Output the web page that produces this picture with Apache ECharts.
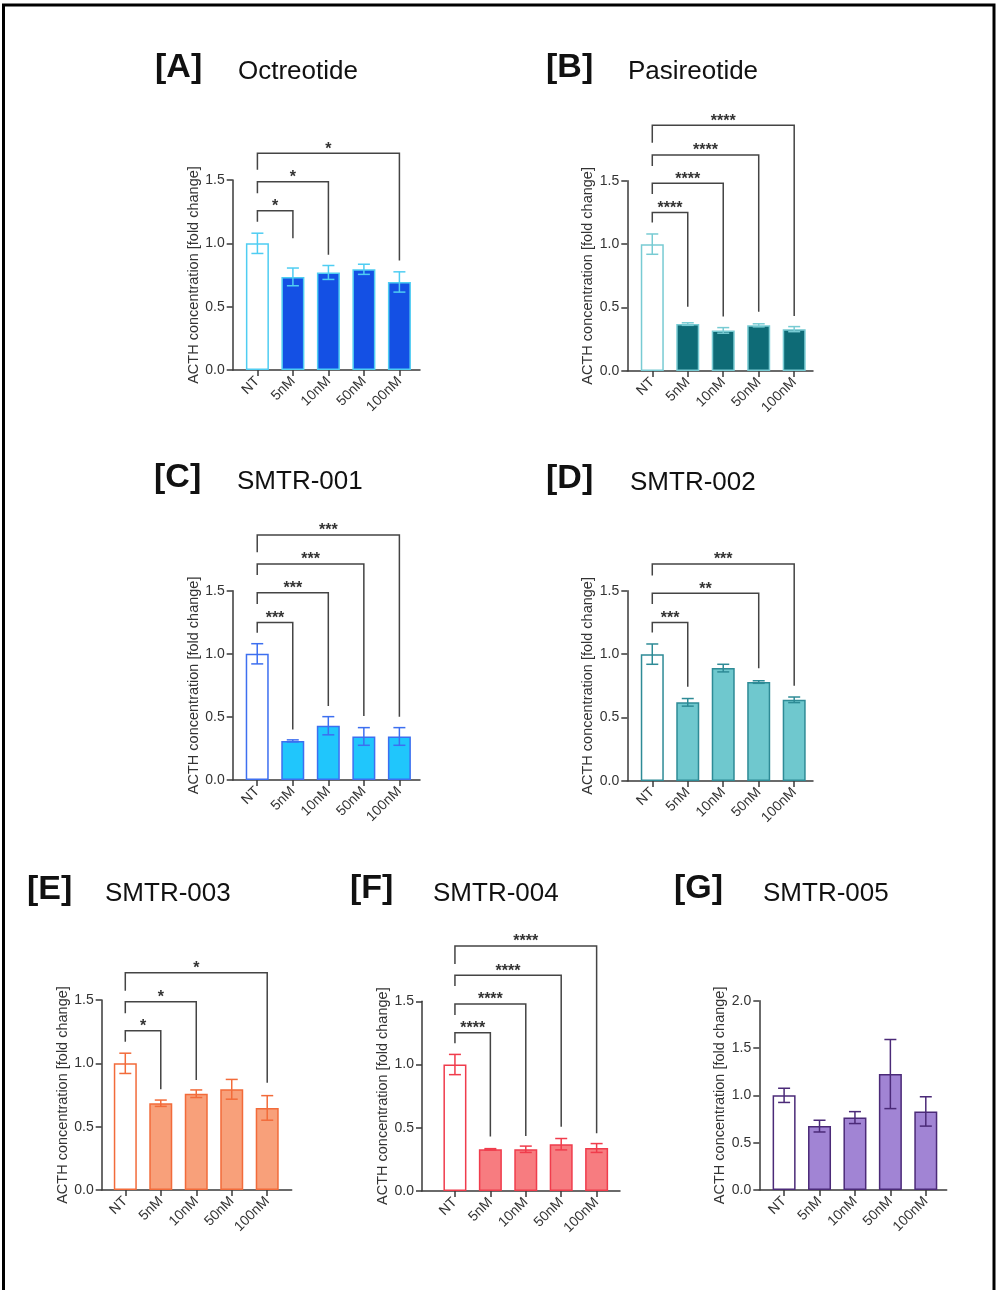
<!DOCTYPE html>
<html>
<head>
<meta charset="utf-8">
<script src="https://cdn.jsdelivr.net/npm/echarts@6/dist/echarts.min.js"></script>
<style>
  html, body { margin: 0; padding: 0; background: #fff; }
  #main { width: 996px; height: 1290px; }
</style>
</head>
<body>
<div id="main"></div>
<script>
// treatment groups on the x axis
const categories = ['NT', '5nM', '10nM', '50nM', '100nM'];
const yTicksMain = [0, 0.5, 1.0, 1.5];
const yTicksG = [0, 0.5, 1.0, 1.5, 2.0];

// mean fold change and error
const octreotideMean = [1.0, 0.735, 0.77, 0.795, 0.695];
const octreotideErr = [0.08, 0.07, 0.055, 0.04, 0.08];
const pasireotideMean = [1.0, 0.37, 0.32, 0.36, 0.33];
const pasireotideErr = [0.08, 0.01, 0.022, 0.012, 0.02];
const smtr001Mean = [1.0, 0.31, 0.43, 0.345, 0.345];
const smtr001Err = [0.08, 0.008, 0.072, 0.07, 0.07];
const smtr002Mean = [1.0, 0.62, 0.89, 0.78, 0.64];
const smtr002Err = [0.08, 0.03, 0.03, 0.01, 0.022];
const smtr003Mean = [1.0, 0.685, 0.76, 0.795, 0.648];
const smtr003Err = [0.08, 0.025, 0.03, 0.078, 0.097];
const smtr004Mean = [1.0, 0.33, 0.33, 0.37, 0.34];
const smtr004Err = [0.08, 0.005, 0.025, 0.045, 0.035];
const smtr005Mean = [1.0, 0.675, 0.765, 1.225, 0.83];
const smtr005Err = [0.075, 0.062, 0.063, 0.365, 0.155];

// significance brackets: [target index, stars, bracket level, left leg end, right leg end]
const octreotideSig = [[1, '*', 1.258, 1.17, 1.04], [2, '*', 1.487, 1.395, 0.91], [4, '*', 1.711, 1.58, 0.865]];
const pasireotideSig = [[1, '****', 1.25, 1.17, 0.507], [2, '****', 1.479, 1.395, 0.43], [3, '****', 1.702, 1.615, 0.468], [4, '****', 1.938, 1.80, 0.433]];
const smtr001Sig = [[1, '***', 1.249, 1.167, 0.40], [2, '***', 1.484, 1.394, 0.586], [3, '***', 1.711, 1.624, 0.507], [4, '***', 1.941, 1.804, 0.502]];
const smtr002Sig = [[1, '***', 1.25, 1.17, 0.743], [3, '**', 1.479, 1.395, 0.888], [4, '***', 1.71, 1.62, 0.75]];
const smtr003Sig = [[1, '*', 1.258, 1.171, 0.795], [2, '*', 1.487, 1.395, 0.868], [4, '*', 1.716, 1.574, 0.847]];
const smtr004Sig = [[1, '****', 1.252, 1.168, 0.43], [2, '****', 1.479, 1.392, 0.435], [3, '****', 1.706, 1.621, 0.509], [4, '****', 1.938, 1.795, 0.456]];
const smtr005Sig = [];

const panels = [
  { tag: '[A]', name: 'Octreotide', mean: octreotideMean, err: octreotideErr, sig: octreotideSig, ticks: yTicksMain,
    fill: '#1450e4', stroke: '#4fcdf2', left: 232.7, right: 420, top: 180, bottom: 370, xMin: -0.696, xMax: 4.58,
    tagX: 155, nameX: 238, tagY: 68, nameY: 72 },
  { tag: '[B]', name: 'Pasireotide', mean: pasireotideMean, err: pasireotideErr, sig: pasireotideSig, ticks: yTicksMain,
    fill: '#0e6b76', stroke: '#78cbd3', left: 627.3, right: 813, top: 180.7, bottom: 371, xMin: -0.704, xMax: 4.53,
    tagX: 546, nameX: 628, tagY: 68, nameY: 72 },
  { tag: '[C]', name: 'SMTR-001', mean: smtr001Mean, err: smtr001Err, sig: smtr001Sig, ticks: yTicksMain,
    fill: '#20c6fc', stroke: '#3d6ff0', left: 232.7, right: 420, top: 590.7, bottom: 780, xMin: -0.69, xMax: 4.58,
    tagX: 154, nameX: 237, tagY: 478, nameY: 481.5 },
  { tag: '[D]', name: 'SMTR-002', mean: smtr002Mean, err: smtr002Err, sig: smtr002Sig, ticks: yTicksMain,
    fill: '#6fc8ce', stroke: '#2e8b96', left: 627.3, right: 813, top: 590.7, bottom: 781, xMin: -0.704, xMax: 4.53,
    tagX: 546, nameX: 630, tagY: 479, nameY: 483 },
  { tag: '[E]', name: 'SMTR-003', mean: smtr003Mean, err: smtr003Err, sig: smtr003Sig, ticks: yTicksMain,
    fill: '#f8a07a', stroke: '#f26b3a', left: 101.7, right: 291.7, top: 1000, bottom: 1190, xMin: -0.665, xMax: 4.69,
    tagX: 27, nameX: 105, tagY: 890, nameY: 893.5 },
  { tag: '[F]', name: 'SMTR-004', mean: smtr004Mean, err: smtr004Err, sig: smtr004Sig, ticks: yTicksMain,
    fill: '#f77c80', stroke: '#f03c4c', left: 422, right: 620, top: 1001.3, bottom: 1191, xMin: -0.93, xMax: 4.66,
    tagX: 350, nameX: 433, tagY: 889, nameY: 894 },
  { tag: '[G]', name: 'SMTR-005', mean: smtr005Mean, err: smtr005Err, sig: smtr005Sig, ticks: yTicksG,
    fill: '#a184d4', stroke: '#4b2a78', left: 759.3, right: 946.7, top: 1000.7, bottom: 1190, xMin: -0.70, xMax: 4.59,
    tagX: 674, nameX: 763, tagY: 889, nameY: 894 }
];

const axisColor = '#3a3a3a';
const fontFamily = 'Liberation Sans, Arial, sans-serif';
const catIdx = categories.map((c, i) => i);

let grids = [], xAxes = [], yAxes = [], series = [], graphics = [];

// outer frame
graphics.push({
  type: 'rect', shape: { x: 3.5, y: 5, width: 990.5, height: 1300 },
  style: { fill: null, stroke: '#000', lineWidth: 3 }, silent: true
});

panels.forEach((p, k) => {
  grids.push({ left: p.left, top: p.top, width: p.right - p.left, height: p.bottom - p.top, outerBoundsMode: 'none' });
  xAxes.push({
    type: 'value', gridIndex: k, min: p.xMin, max: p.xMax,
    axisLine: { onZero: false, lineStyle: { color: axisColor, width: 1.5 } },
    axisTick: { show: true, customValues: catIdx, length: 6, lineStyle: { color: axisColor, width: 1.5 } },
    axisLabel: {
      customValues: catIdx, rotate: 45, margin: 9, fontSize: 14, color: '#333', fontFamily: fontFamily,
      formatter: v => categories[Math.round(v)]
    },
    splitLine: { show: false }
  });
  const tmax = p.ticks[p.ticks.length - 1];
  yAxes.push({
    type: 'value', gridIndex: k, min: 0, max: tmax, interval: 0.5,
    name: 'ACTH concentration [fold change]', nameLocation: 'middle', nameGap: 31,
    nameTextStyle: { fontSize: 14.5, color: '#333', fontFamily: fontFamily },
    axisLine: { show: true, onZero: false, lineStyle: { color: axisColor, width: 1.5 } },
    axisTick: { show: true, length: 6, lineStyle: { color: axisColor, width: 1.5 } },
    axisLabel: { fontSize: 14, color: '#333', margin: 8, fontFamily: fontFamily, formatter: v => v.toFixed(1) },
    splitLine: { show: false }
  });

  series.push({
    type: 'bar', xAxisIndex: k, yAxisIndex: k, barWidth: 23, silent: true,
    data: p.mean.map((m, i) => ({
      value: [i, m],
      itemStyle: { color: i === 0 ? '#fff' : p.fill, borderColor: p.stroke, borderWidth: 1.5 }
    }))
  });

  series.push({
    type: 'custom', xAxisIndex: k, yAxisIndex: k, silent: true, clip: false, z: 5,
    data: p.mean.map((m, i) => [i, m - p.err[i], m + p.err[i]]),
    renderItem: (params, api) => {
      const lo = api.coord([api.value(0), api.value(1)]);
      const hi = api.coord([api.value(0), api.value(2)]);
      const w = 6;
      const st = { stroke: p.stroke, lineWidth: 1.5, fill: null };
      return {
        type: 'group', children: [
          { type: 'line', shape: { x1: lo[0], y1: lo[1], x2: hi[0], y2: hi[1] }, style: st },
          { type: 'line', shape: { x1: lo[0] - w, y1: lo[1], x2: lo[0] + w, y2: lo[1] }, style: st },
          { type: 'line', shape: { x1: hi[0] - w, y1: hi[1], x2: hi[0] + w, y2: hi[1] }, style: st }
        ]
      };
    }
  });

  if (p.sig.length) {
    series.push({
      type: 'custom', xAxisIndex: k, yAxisIndex: k, silent: true, clip: false, z: 6,
      data: p.sig.map(r => [r[0], r[2], r[3], r[4]]),
      renderItem: (params, api) => {
        const r = p.sig[params.dataIndex];
        const a = api.coord([0, api.value(2)]);
        const t = api.coord([0, api.value(1)]);
        const b = api.coord([api.value(0), api.value(3)]);
        const xL = a[0], xR = b[0], yT = t[1];
        return {
          type: 'group', children: [
            { type: 'polyline', shape: { points: [[xL, a[1]], [xL, yT], [xR, yT], [xR, b[1]]] },
              style: { stroke: '#444', lineWidth: 1.5, fill: null } },
            { type: 'text', x: (xL + xR) / 2, y: yT + 4,
              style: { text: r[1], align: 'center', verticalAlign: 'bottom', fontSize: 16, fontWeight: 'bold',
                       fill: '#333', fontFamily: fontFamily } }
          ]
        };
      }
    });
  }

  graphics.push({ type: 'text', x: p.tagX, y: p.tagY,
    style: { text: p.tag, font: 'bold 34px ' + fontFamily, fill: '#111', verticalAlign: 'middle' } });
  graphics.push({ type: 'text', x: p.nameX, y: p.nameY,
    style: { text: p.name, font: '26px ' + fontFamily, fill: '#111', verticalAlign: 'middle' } });
});

const chart = echarts.init(document.getElementById('main'));
chart.setOption({
  backgroundColor: '#fff',
  animation: false,
  grid: grids,
  xAxis: xAxes,
  yAxis: yAxes,
  series: series,
  graphic: graphics
});
</script>
</body>
</html>
